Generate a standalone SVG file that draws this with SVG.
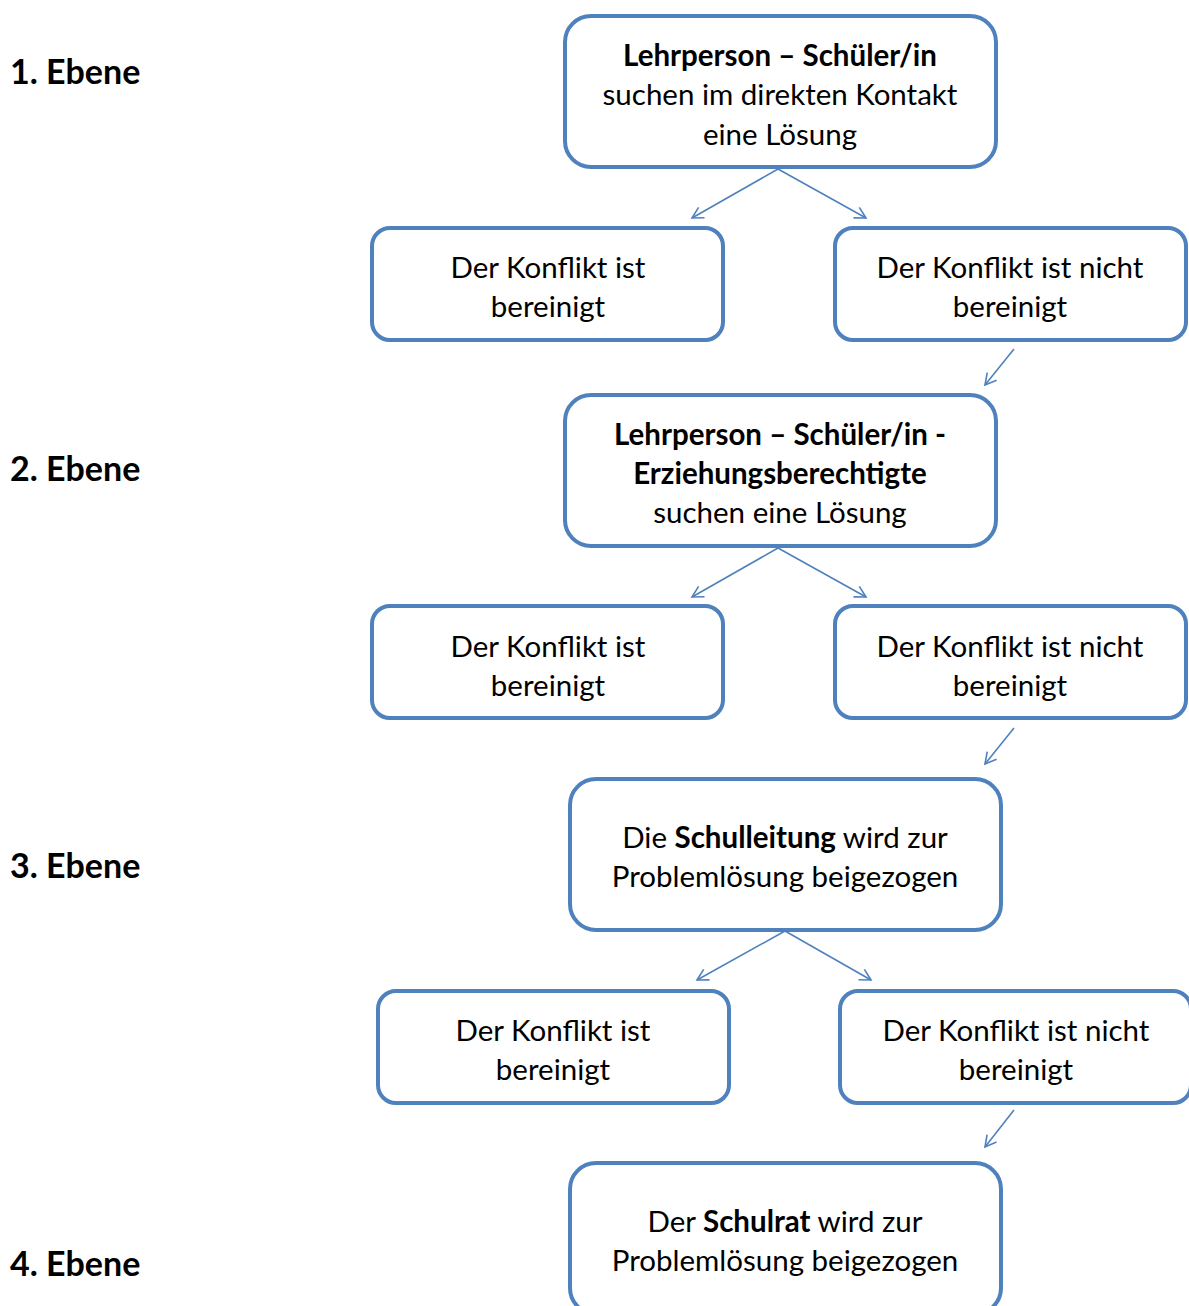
<svg xmlns="http://www.w3.org/2000/svg" width="1189" height="1306" viewBox="0 0 1189 1306">
<style>
.box{fill:#fff;stroke:#4F81BD;stroke-width:4}
.t{font-family:Lato,"Open Sans",sans-serif;font-size:29.5px;fill:#000;text-anchor:middle;dominant-baseline:central}
.b{font-weight:bold}
.lvl{font-family:Lato,"Open Sans",sans-serif;font-size:34px;font-weight:bold;fill:#000;dominant-baseline:central}
.c{stroke:#4F81BD;stroke-width:1.6;fill:none}
</style>
<defs>
<marker id="ah" markerWidth="14" markerHeight="14" refX="12" refY="7" orient="auto" markerUnits="userSpaceOnUse">
<path d="M1,1 L12,7 L1,13" fill="none" stroke="#4F81BD" stroke-width="1.6"/>
</marker>
</defs>
<rect width="1189" height="1306" fill="#fff"/>
<g id="labels">
<text class="lvl" x="10" y="70">1. Ebene</text>
<text class="lvl" x="10" y="467">2. Ebene</text>
<text class="lvl" x="10" y="864">3. Ebene</text>
<text class="lvl" x="10" y="1262">4. Ebene</text>
</g>
<g id="connectors">
<line class="c" x1="778" y1="169" x2="692" y2="218" marker-end="url(#ah)"/>
<line class="c" x1="778" y1="169" x2="866" y2="218" marker-end="url(#ah)"/>
<line class="c" x1="1014" y1="349" x2="985" y2="385" marker-end="url(#ah)"/>
<line class="c" x1="778" y1="548" x2="692" y2="597" marker-end="url(#ah)"/>
<line class="c" x1="778" y1="548" x2="866" y2="597" marker-end="url(#ah)"/>
<line class="c" x1="1014" y1="728" x2="985" y2="764" marker-end="url(#ah)"/>
<line class="c" x1="785" y1="931" x2="697" y2="980" marker-end="url(#ah)"/>
<line class="c" x1="785" y1="931" x2="871" y2="980" marker-end="url(#ah)"/>
<line class="c" x1="1014" y1="1110" x2="985" y2="1147" marker-end="url(#ah)"/>
</g>
<g id="n1">
<rect class="box" x="565" y="16" width="431" height="151" rx="26"/>
<text class="t b" x="780" y="54">Lehrperson – Schüler/in</text>
<text class="t" x="780" y="93">suchen im direkten Kontakt</text>
<text class="t" x="780" y="133">eine Lösung</text>
</g>
<g id="n1a">
<rect class="box" x="372" y="228" width="351" height="112" rx="18"/>
<text class="t" x="548" y="266">Der Konflikt ist</text>
<text class="t" x="548" y="305">bereinigt</text>
</g>
<g id="n1b">
<rect class="box" x="835" y="228" width="351" height="112" rx="18"/>
<text class="t" x="1010" y="266">Der Konflikt ist nicht</text>
<text class="t" x="1010" y="305">bereinigt</text>
</g>
<g id="n2">
<rect class="box" x="565" y="395" width="431" height="151" rx="26"/>
<text class="t b" x="780" y="433">Lehrperson – Schüler/in -</text>
<text class="t b" x="780" y="472">Erziehungsberechtigte</text>
<text class="t" x="780" y="511">suchen eine Lösung</text>
</g>
<g id="n2a">
<rect class="box" x="372" y="606" width="351" height="112" rx="18"/>
<text class="t" x="548" y="645">Der Konflikt ist</text>
<text class="t" x="548" y="684">bereinigt</text>
</g>
<g id="n2b">
<rect class="box" x="835" y="606" width="351" height="112" rx="18"/>
<text class="t" x="1010" y="645">Der Konflikt ist nicht</text>
<text class="t" x="1010" y="684">bereinigt</text>
</g>
<g id="n3">
<rect class="box" x="570" y="779" width="431" height="151" rx="26"/>
<text class="t" x="785" y="836">Die <tspan class="b">Schulleitung</tspan> wird zur</text>
<text class="t" x="785" y="875">Problemlösung beigezogen</text>
</g>
<g id="n3a">
<rect class="box" x="378" y="991" width="351" height="112" rx="18"/>
<text class="t" x="553" y="1029">Der Konflikt ist</text>
<text class="t" x="553" y="1068">bereinigt</text>
</g>
<g id="n3b">
<rect class="box" x="840" y="991" width="351" height="112" rx="18"/>
<text class="t" x="1016" y="1029">Der Konflikt ist nicht</text>
<text class="t" x="1016" y="1068">bereinigt</text>
</g>
<g id="n4">
<rect class="box" x="570" y="1163" width="431" height="151" rx="26"/>
<text class="t" x="785" y="1220">Der <tspan class="b">Schulrat</tspan> wird zur</text>
<text class="t" x="785" y="1259">Problemlösung beigezogen</text>
</g>
</svg>
